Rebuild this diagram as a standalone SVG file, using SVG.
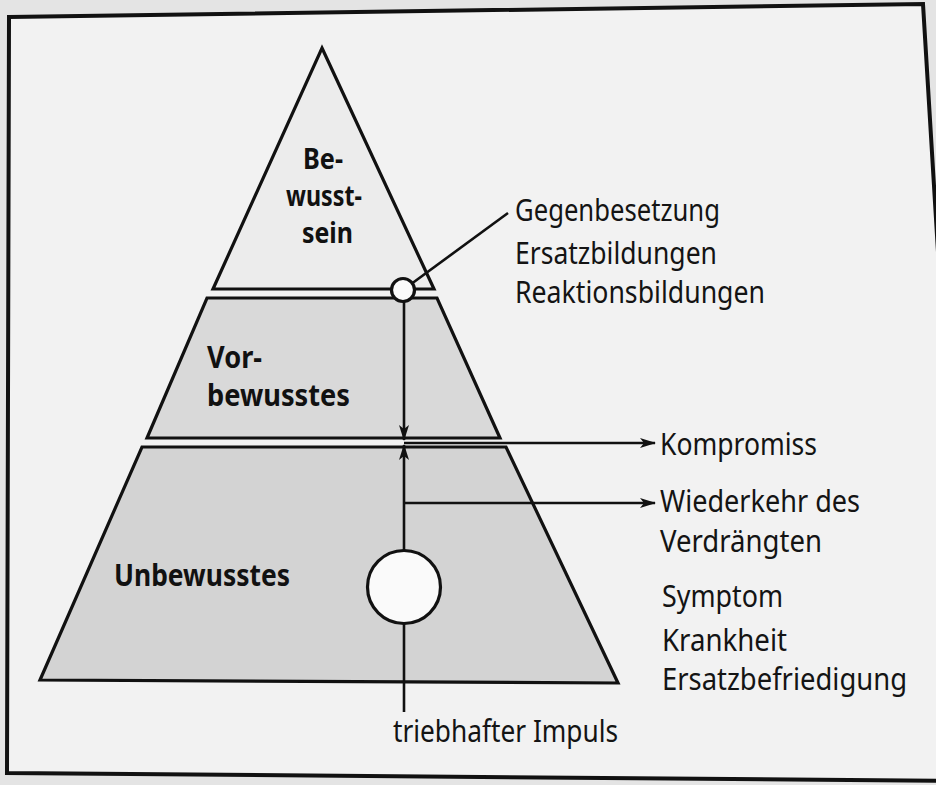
<svg xmlns="http://www.w3.org/2000/svg" width="936" height="785" viewBox="0 0 936 785">
  <defs>
    <marker id="ah" viewBox="0 0 16 10" refX="15" refY="5" markerWidth="16" markerHeight="10" markerUnits="userSpaceOnUse" orient="auto">
      <path d="M0,0 L16,5 L0,10 L4,5 Z" fill="#111"/>
    </marker>
  </defs>
  <style>
    .layer { stroke: #111; stroke-width: 3.2; stroke-linejoin: miter; }
    .t { font-family: "Noto Sans", "Open Sans", "Liberation Sans", sans-serif; font-size: 30px; fill: #141414; }
    .b { font-family: "Noto Sans", "Open Sans", "Liberation Sans", sans-serif; font-size: 30px; font-weight: 700; fill: #111; }
    .bs { font-size: 28px; }
    .ln { stroke: #111; stroke-width: 2.6; fill: none; }
    .circ { fill: #fafafa; stroke: #111; stroke-width: 3.2; }
  </style>

  <rect x="0" y="0" width="936" height="785" fill="#e4e4e4"/>
  <path id="frame" d="M9,17 L923,4 L970,781 L7,773 Z" fill="#f2f2f2" stroke="#111" stroke-width="4"/>

  <g id="bewusstsein">
    <polygon class="layer" points="322,48 434,289 213,289" fill="#ececec"/>
    <text class="b bs" x="303" y="169" textLength="40" lengthAdjust="spacingAndGlyphs">Be-</text>
    <text class="b bs" x="286" y="206" textLength="76" lengthAdjust="spacingAndGlyphs">wusst-</text>
    <text class="b bs" x="302" y="243" textLength="51" lengthAdjust="spacingAndGlyphs">sein</text>
  </g>

  <g id="vorbewusstes">
    <polygon class="layer" points="207,298 437,298 500,438 147,438" fill="#d9d9d9"/>
    <text class="b" x="207" y="368" textLength="55" lengthAdjust="spacingAndGlyphs">Vor-</text>
    <text class="b" x="207" y="406" textLength="143" lengthAdjust="spacingAndGlyphs">bewusstes</text>
  </g>

  <g id="unbewusstes">
    <polygon class="layer" points="142,447 506,447 618,683 40,680" fill="#d3d3d3"/>
    <text class="b" x="114" y="586" textLength="176" lengthAdjust="spacingAndGlyphs">Unbewusstes</text>
  </g>

  <g id="connectors">
    <line class="ln" x1="403" y1="290" x2="508" y2="213"/>
    <line class="ln" x1="404" y1="301" x2="404" y2="440" marker-end="url(#ah)"/>
    <line class="ln" x1="404" y1="550" x2="404" y2="445" marker-end="url(#ah)"/>
    <line class="ln" x1="404" y1="623" x2="404" y2="712"/>
    <line class="ln" x1="404" y1="443" x2="655" y2="443" marker-end="url(#ah)"/>
    <line class="ln" x1="404" y1="503" x2="655" y2="503" marker-end="url(#ah)"/>
  </g>

  <g id="gegenbesetzung-knoten">
    <circle class="circ" cx="403" cy="290" r="11.5"/>
  </g>

  <g id="impuls-knoten">
    <circle class="circ" cx="404" cy="587" r="36.5"/>
  </g>

  <g id="label-abwehr">
    <text class="t" x="515" y="221" textLength="205" lengthAdjust="spacingAndGlyphs">Gegenbesetzung</text>
    <text class="t" x="515" y="264" textLength="202" lengthAdjust="spacingAndGlyphs">Ersatzbildungen</text>
    <text class="t" x="515" y="303" textLength="250" lengthAdjust="spacingAndGlyphs">Reaktionsbildungen</text>
  </g>

  <g id="label-kompromiss">
    <text class="t" x="660" y="455" textLength="157" lengthAdjust="spacingAndGlyphs">Kompromiss</text>
  </g>

  <g id="label-wiederkehr">
    <text class="t" x="660" y="512" textLength="200" lengthAdjust="spacingAndGlyphs">Wiederkehr des</text>
    <text class="t" x="660" y="552" textLength="162" lengthAdjust="spacingAndGlyphs">Verdrängten</text>
  </g>

  <g id="label-folgen">
    <text class="t" x="662" y="607" textLength="121" lengthAdjust="spacingAndGlyphs">Symptom</text>
    <text class="t" x="662" y="651" textLength="125" lengthAdjust="spacingAndGlyphs">Krankheit</text>
    <text class="t" x="662" y="690" textLength="245" lengthAdjust="spacingAndGlyphs">Ersatzbefriedigung</text>
  </g>

  <g id="label-impuls">
    <text class="t" x="393" y="742" textLength="225" lengthAdjust="spacingAndGlyphs">triebhafter Impuls</text>
  </g>
</svg>
